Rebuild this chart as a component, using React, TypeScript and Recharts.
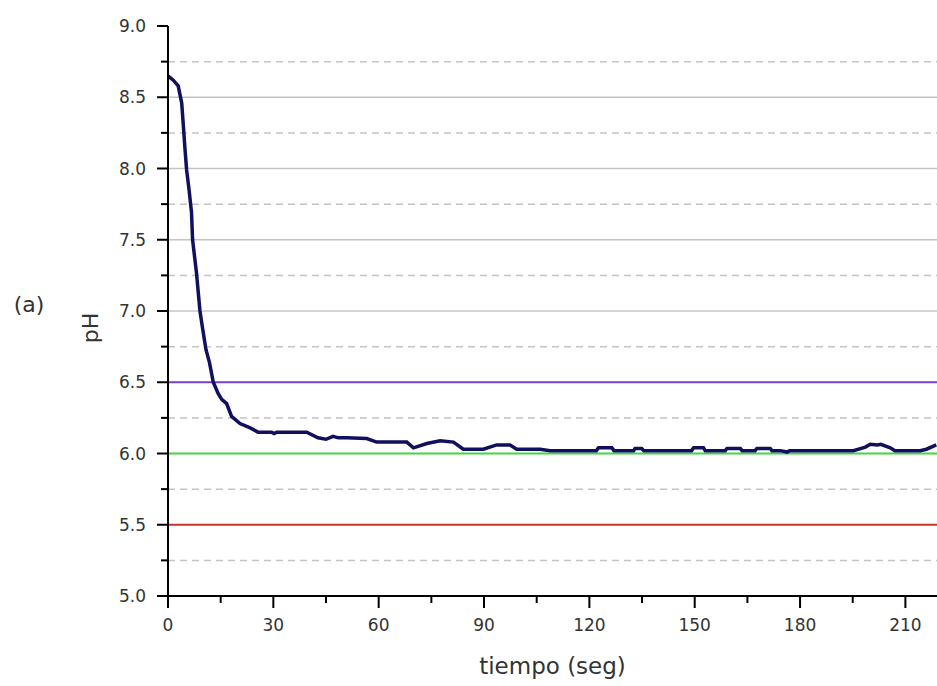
import { LineChart, Line, XAxis, YAxis, ReferenceLine } from "recharts";

const timeSec = [
  0, 1.5, 2.9, 3.9, 4.4, 4.8, 5.3, 6.0, 6.7, 7.0, 8.1, 9.1, 9.9, 10.8, 11.8, 12.9, 14.3, 15.3, 16.7,
  18.1, 20.5, 23.4, 25.6, 29.5, 30.2, 31, 39.5, 42.7, 45, 47, 48.5, 50.9, 56.6, 59.4, 68, 69.9, 73.7,
  77.5, 81.3, 84.1, 89.8, 93.6, 97.4, 99.3, 106, 108.8, 122, 122.6, 126.4, 127, 132.6, 133, 134.9,
  135.5, 149.1, 149.7, 152.5, 153, 158.7, 159.2, 163, 163.5, 167.2, 167.7, 171.5, 172, 174.4, 176.3,
  177, 195.2, 198.6, 200, 202, 203, 205.7, 207, 214.2, 216, 218.8,
];
const phValues = [
  8.65, 8.62, 8.58, 8.46, 8.29, 8.15, 7.99, 7.85, 7.69, 7.5, 7.27, 7.0, 6.87, 6.73, 6.64, 6.5, 6.42,
  6.38, 6.35, 6.26, 6.21, 6.18, 6.15, 6.15, 6.14, 6.15, 6.15, 6.11, 6.1, 6.12, 6.11, 6.11, 6.105, 6.08,
  6.08, 6.04, 6.07, 6.09, 6.08, 6.03, 6.03, 6.06, 6.06, 6.03, 6.03, 6.02, 6.02, 6.04, 6.04, 6.02, 6.02,
  6.035, 6.035, 6.02, 6.02, 6.04, 6.04, 6.02, 6.02, 6.035, 6.035, 6.02, 6.02, 6.035, 6.035, 6.02, 6.02,
  6.01, 6.02, 6.02, 6.045, 6.065, 6.06, 6.065, 6.04, 6.02, 6.02, 6.03, 6.06,
];

const xTicks = [0, 15, 30, 45, 60, 75, 90, 105, 120, 135, 150, 165, 180, 195, 210];
const yTicks = [5, 5.25, 5.5, 5.75, 6, 6.25, 6.5, 6.75, 7, 7.25, 7.5, 7.75, 8, 8.25, 8.5, 8.75, 9];
const solidGrid = [7, 7.5, 8, 8.5];
const dashedGrid = [5.25, 5.75, 6.25, 6.75, 7.25, 7.75, 8.25, 8.75];
const limits = [
  { value: 6.5, color: "#7b3fc4" },
  { value: 6.0, color: "#3fd63f" },
  { value: 5.5, color: "#c83232" },
];

const data = timeSec.map((t, i) => ({ t, ph: phValues[i] }));

const FONT = "'DejaVu Sans', Verdana, sans-serif";

function XTick({ x, y, payload }: any) {
  const major = payload.value % 30 === 0;
  return (
    <g>
      <line x1={x} x2={x} y1={y} y2={y + (major ? 12 : 7)} stroke="#000" strokeWidth={2} />
      {major && (
        <text x={x} y={y + 29} textAnchor="middle" dominantBaseline="central" fill="#333" fontSize={17} fontFamily={FONT}>
          {payload.value}
        </text>
      )}
    </g>
  );
}

function YTick({ x, y, payload }: any) {
  const major = Math.abs(payload.value * 2 - Math.round(payload.value * 2)) < 1e-6;
  return (
    <g>
      <line x1={x - (major ? 11 : 7)} x2={x} y1={y} y2={y} stroke="#000" strokeWidth={2} />
      {major && (
        <text x={x - 22} y={y} textAnchor="end" dominantBaseline="central" fill="#333" fontSize={17} fontFamily={FONT}>
          {payload.value.toFixed(1)}
        </text>
      )}
    </g>
  );
}

export default function App() {
  return (
    <div style={{ position: "absolute", left: 0, top: 0, background: "#fff" }}>
      <LineChart width={937} height={686} data={data} margin={{ top: 26, right: 0, bottom: 0, left: 0 }}>
        <XAxis
          dataKey="t"
          type="number"
          domain={[0, 219]}
          allowDataOverflow
          ticks={xTicks}
          interval={0}
          height={90}
          tickSize={0}
          tickMargin={0}
          tickLine={false}
          tick={<XTick />}
          axisLine={{ stroke: "#000", strokeWidth: 2 }}
          label={{
            content: ({ viewBox }: any) => (
              <text
                x={viewBox.x + viewBox.width / 2}
                y={viewBox.y + 70}
                textAnchor="middle"
                dominantBaseline="central"
                fill="#333"
                fontSize={23}
                fontFamily={FONT}
              >
                tiempo (seg)
              </text>
            ),
          }}
        />
        <YAxis
          type="number"
          domain={[5, 9]}
          ticks={yTicks}
          interval={0}
          width={168}
          tickSize={0}
          tickMargin={0}
          tickLine={false}
          tick={<YTick />}
          axisLine={{ stroke: "#000", strokeWidth: 2 }}
          label={{
            content: () => (
              <g>
                <text x={29} y={304} textAnchor="middle" dominantBaseline="central" fill="#333" fontSize={22} fontFamily={FONT}>
                  (a)
                </text>
                <text
                  x={90}
                  y={328}
                  transform="rotate(-90 90 328)"
                  textAnchor="middle"
                  dominantBaseline="central"
                  fill="#333"
                  fontSize={22}
                  fontFamily={FONT}
                >
                  pH
                </text>
              </g>
            ),
          }}
        />
        {solidGrid.map((v) => (
          <ReferenceLine key={"s" + v} y={v} stroke="#c4c4c4" strokeWidth={1.5} />
        ))}
        {dashedGrid.map((v) => (
          <ReferenceLine key={"d" + v} y={v} stroke="#c4c4c4" strokeWidth={1.5} strokeDasharray="7 5" />
        ))}
        {limits.map((l) => (
          <ReferenceLine key={"l" + l.value} y={l.value} stroke={l.color} strokeWidth={2} />
        ))}
        <Line
          type="linear"
          dataKey="ph"
          stroke="#10105e"
          strokeWidth={3.5}
          dot={false}
          isAnimationActive={false}
        />
      </LineChart>
    </div>
  );
}
